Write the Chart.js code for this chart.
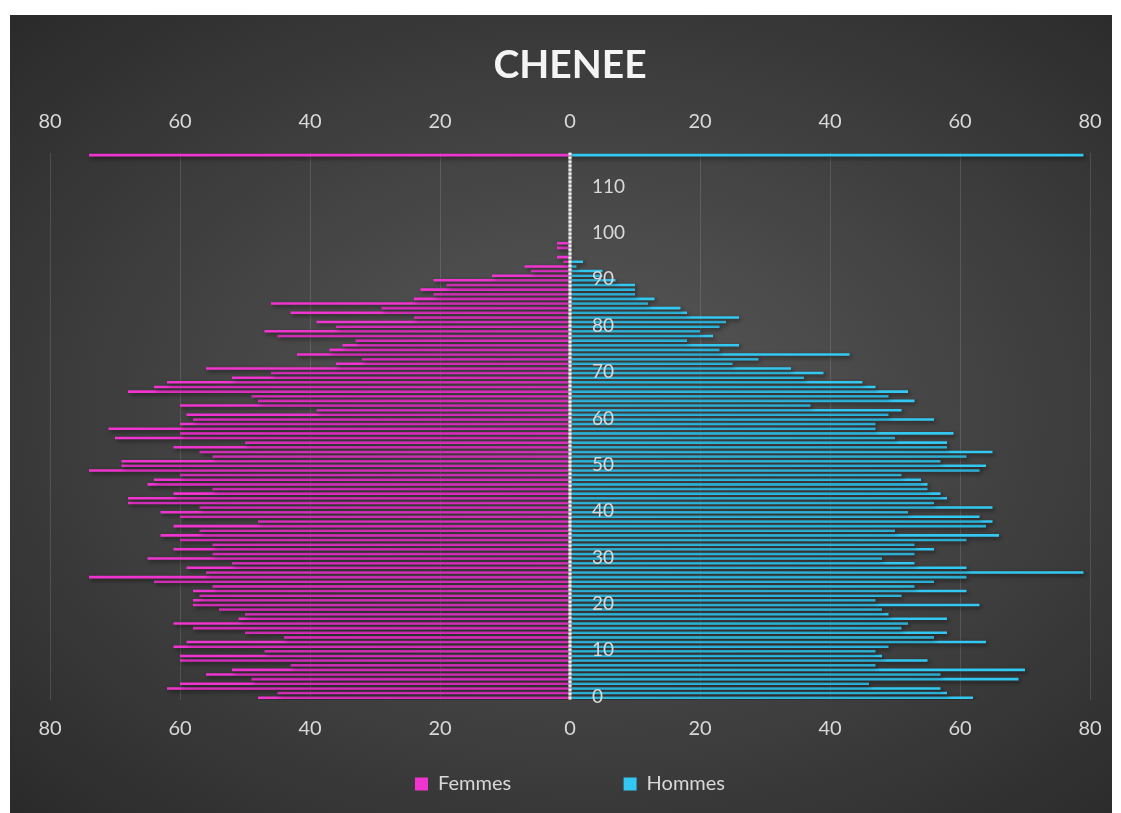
<!DOCTYPE html>
<html>
<head>
<meta charset="utf-8">
<script src="https://cdn.jsdelivr.net/npm/chart.js@4.4.0/dist/chart.umd.min.js"></script>
<style>
  html, body { margin: 0; padding: 0; background: #fff; overflow: hidden; }
  #frame {
    position: absolute; left: 10px; top: 15px; width: 1102px; height: 798px; overflow: hidden;
    background: radial-gradient(ellipse at 52% 50%, #5a5a5a 0%, #474747 40%, #2a2a2a 100%);
  }
  canvas { display: block; position: absolute; left: 0; top: 0; }
</style>
</head>
<body>
<div id="frame"><canvas id="pyramid" width="1120" height="798"></canvas></div>
<script>
// Population pyramid - Chenee

// ages 0..117 (top row is the odd "max" row of the source sheet)
const ages = Array.from({ length: 118 }, (_, i) => String(i));

const femmes = [
  48, 45, 62, 60, 49, 56, 52, 43, 60, 60,
  47, 61, 59, 44, 50, 58, 61, 51, 50, 54,
  58, 58, 57, 58, 55, 64, 74, 56, 59, 52,
  65, 55, 61, 55, 60, 63, 57, 61, 48, 60,
  63, 57, 68, 68, 61, 55, 65, 64, 60, 74,
  69, 69, 55, 57, 61, 50, 70, 60, 71, 60,
  58, 59, 39, 60, 48, 49, 68, 64, 62, 52,
  46, 56, 36, 32, 42, 37, 35, 33, 45, 47,
  36, 39, 24, 43, 29, 46, 24, 21, 23, 19,
  21, 12, 6, 7, 1, 2, 0, 2, 2, 0,
  0, 0, 0, 0, 0, 0, 0, 0, 0, 0,
  0, 0, 0, 0, 0, 0, 0, 74
];

const hommes = [
  62, 58, 57, 46, 69, 57, 70, 47, 55, 48,
  47, 49, 64, 56, 58, 51, 52, 58, 49, 48,
  63, 47, 51, 61, 53, 56, 61, 79, 61, 53,
  48, 53, 56, 53, 61, 66, 50, 64, 65, 63,
  52, 65, 56, 58, 57, 55, 55, 54, 51, 63,
  64, 57, 61, 65, 58, 58, 50, 59, 47, 47,
  56, 49, 51, 37, 53, 49, 52, 47, 45, 36,
  39, 34, 25, 29, 43, 23, 26, 18, 22, 20,
  23, 24, 26, 18, 17, 12, 13, 10, 10, 10,
  7, 5, 5, 1, 2, 0, 0, 0, 0, 0,
  0, 0, 0, 0, 0, 0, 0, 0, 0, 0,
  0, 0, 0, 0, 0, 0, 0, 79
];

const ageTicks = [0, 10, 20, 30, 40, 50, 60, 70, 80, 90, 100, 110];

const textColor = '#d9d9d9';
const fontFamily = 'Lato, "Open Sans", sans-serif';

// shadow under the bars, center axis line and age labels
const pyramidExtras = {
    id: 'pyramidExtras',
    beforeDatasetsDraw(chart) {
        const ctx = chart.ctx;
        ctx.save();
        ctx.shadowColor = 'rgba(0, 0, 0, 0.55)';
        ctx.shadowBlur = 4;
        ctx.shadowOffsetX = 2;
        ctx.shadowOffsetY = 2;
    },
    afterDatasetsDraw(chart) {
        const ctx = chart.ctx;
        ctx.restore();

        const x0 = chart.scales.x.getPixelForValue(0);
        const area = chart.chartArea;

        ctx.save();
        ctx.strokeStyle = '#a6a6a6';
        ctx.lineWidth = 3;
        ctx.beginPath();
        ctx.moveTo(x0, area.top);
        ctx.lineTo(x0, area.bottom);
        ctx.stroke();
        ctx.strokeStyle = '#f2f2f2';
        ctx.setLineDash([2, 2]);
        ctx.beginPath();
        ctx.moveTo(x0, area.top);
        ctx.lineTo(x0, area.bottom);
        ctx.stroke();
        ctx.restore();

        ctx.save();
        ctx.fillStyle = textColor;
        ctx.font = '19px ' + fontFamily;
        ctx.textAlign = 'left';
        ctx.textBaseline = 'middle';
        ageTicks.forEach(a => {
            const y = chart.scales.y.getPixelForValue(a);
            ctx.fillText(String(a), x0 + 22, y - 1);
        });
        ctx.restore();
    }
};

const tickFont = { family: fontFamily, size: 20 };

new Chart(document.getElementById('pyramid'), {
    type: 'bar',
    data: {
        labels: ages,
        datasets: [
            {
                label: 'Femmes',
                data: femmes.map(v => -v),
                backgroundColor: '#ef34cf',
                borderWidth: 0,
                barPercentage: 0.55,
                categoryPercentage: 1.0
            },
            {
                label: 'Hommes',
                data: hommes,
                backgroundColor: '#33c8f2',
                borderWidth: 0,
                barPercentage: 0.55,
                categoryPercentage: 1.0
            }
        ]
    },
    options: {
        indexAxis: 'y',
        responsive: false,
        animation: false,
        layout: {
            padding: { left: 40, right: 40, top: 0, bottom: 9 }
        },
        plugins: {
            title: {
                display: true,
                text: 'CHENEE',
                color: '#f4f4f4',
                font: { family: fontFamily, size: 39, weight: 'bold' },
                padding: { top: 27, bottom: 2 }
            },
            legend: {
                display: true,
                position: 'bottom',
                labels: {
                    color: textColor,
                    font: tickFont,
                    boxWidth: 13,
                    boxHeight: 13,
                    padding: 10,
                    // wide gap between the two entries, as in the sheet
                    generateLabels(chart) {
                        const items = Chart.defaults.plugins.legend.labels.generateLabels(chart);
                        items[0].text = items[0].text + '\u2003\u2003\u2003\u2003\u2003\u2003\u2002\u2009';
                        return items;
                    }
                }
            },
            tooltip: { enabled: false }
        },
        scales: {
            x: {
                stacked: true,
                min: -80,
                max: 80,
                position: 'bottom',
                ticks: {
                    stepSize: 20,
                    color: textColor,
                    font: tickFont,
                    padding: 17,
                    callback: v => Math.abs(v)
                },
                grid: {
                    color: 'rgba(255, 255, 255, 0.13)',
                    drawTicks: false
                },
                border: { display: false },
                afterFit: s => { s.height += 6; }
            },
            x2: {
                type: 'linear',
                min: -80,
                max: 80,
                position: 'top',
                ticks: {
                    stepSize: 20,
                    color: textColor,
                    font: tickFont,
                    padding: 19,
                    callback: v => Math.abs(v)
                },
                grid: { display: false, drawTicks: false },
                border: { display: false }
            },
            y: {
                stacked: true,
                reverse: true,
                display: false
            }
        }
    },
    plugins: [pyramidExtras]
});
</script>
</body>
</html>
